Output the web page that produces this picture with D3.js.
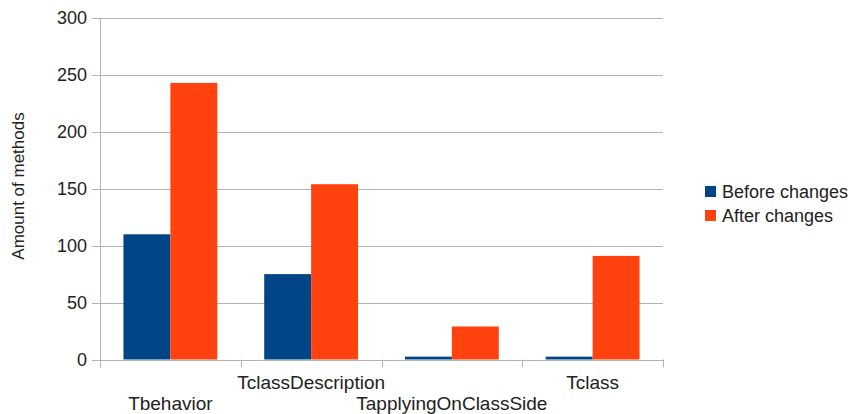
<!DOCTYPE html>
<html>
<head>
<meta charset="utf-8">
<script src="https://cdn.jsdelivr.net/npm/d3@7"></script>
<style>
  html, body { margin: 0; padding: 0; background: #fff; }
  svg { display: block; font-family: "Liberation Sans", Arial, sans-serif; }
</style>
</head>
<body>
<svg id="chart" width="856" height="414"></svg>
<script>
// Method counts per test class, before and after the changes
const categories = ["Tbehavior", "TclassDescription", "TapplyingOnClassSide", "Tclass"];
const seriesNames = ["Before changes", "After changes"];
const beforeValues = [110, 75, 2.5, 2.5];
const afterValues = [243, 154, 29, 91];
const yTicks = [0, 50, 100, 150, 200, 250, 300];
const colors = ["#004586", "#ff420e"];

const svg = d3.select("#chart");
const plot = { left: 100, right: 663, top: 18, bottom: 359.5 };

const x = d3.scaleBand().domain(categories).range([plot.left, plot.right]).paddingInner(0).paddingOuter(0);
const xInner = d3.scaleBand().domain(seriesNames).range([0, x.bandwidth()]).paddingInner(0).paddingOuter(0.5);
const y = d3.scaleLinear().domain([0, 300]).range([plot.bottom, plot.top]);

const rows = categories.map((c, i) => ({ cat: c, values: [beforeValues[i], afterValues[i]] }));

// Horizontal gridlines
svg.append("g")
  .selectAll("line")
  .data(yTicks)
  .join("line")
  .attr("x1", plot.left - 8)
  .attr("x2", plot.right)
  .attr("y1", d => Math.round(y(d)) + 0.5)
  .attr("y2", d => Math.round(y(d)) + 0.5)
  .attr("stroke", "#b3b3b3")
  .attr("stroke-width", 1);

// Y tick labels
svg.append("g")
  .selectAll("text")
  .data(yTicks)
  .join("text")
  .attr("x", 87)
  .attr("y", d => y(d))
  .attr("dy", "0.35em")
  .attr("text-anchor", "end")
  .attr("font-size", 18)
  .attr("fill", "#222")
  .text(d => d);

// Bars
const groups = svg.append("g")
  .selectAll("g")
  .data(rows)
  .join("g")
  .attr("transform", d => `translate(${x(d.cat)},0)`);

groups.selectAll("rect")
  .data(d => d.values.map((v, i) => ({ name: seriesNames[i], v, i })))
  .join("rect")
  .attr("x", d => xInner(d.name))
  .attr("width", xInner.bandwidth())
  .attr("y", d => y(d.v))
  .attr("height", d => y(0) - y(d.v))
  .attr("fill", d => colors[d.i]);

// Axis lines and category separators
const axisColor = "#b3b3b3";
svg.append("line")
  .attr("x1", plot.left + 0.5).attr("x2", plot.left + 0.5)
  .attr("y1", plot.top).attr("y2", plot.bottom + 8)
  .attr("stroke", axisColor);
svg.append("line")
  .attr("x1", plot.left).attr("x2", plot.right)
  .attr("y1", Math.round(plot.bottom) + 0.5).attr("y2", Math.round(plot.bottom) + 0.5)
  .attr("stroke", axisColor);

const boundaries = categories.map(c => x(c)).concat([plot.right]);
svg.append("g")
  .selectAll("line")
  .data(boundaries)
  .join("line")
  .attr("x1", d => Math.round(d) + 0.5)
  .attr("x2", d => Math.round(d) + 0.5)
  .attr("y1", plot.bottom)
  .attr("y2", plot.bottom + 8)
  .attr("stroke", axisColor);

// Category labels, staggered on two rows
svg.append("g")
  .selectAll("text")
  .data(categories)
  .join("text")
  .attr("x", d => x(d) + x.bandwidth() / 2)
  .attr("y", (d, i) => i % 2 === 0 ? 410 : 389)
  .attr("text-anchor", "middle")
  .attr("font-size", 19)
  .attr("fill", "#222")
  .text(d => d);

// Y axis title
svg.append("text")
  .attr("transform", "translate(24,186) rotate(-90)")
  .attr("text-anchor", "middle")
  .attr("font-size", 17)
  .attr("fill", "#222")
  .text("Amount of methods");

// Legend
const legend = svg.append("g")
  .selectAll("g")
  .data(seriesNames)
  .join("g")
  .attr("transform", (d, i) => `translate(705,${186 + i * 24})`);
legend.append("rect")
  .attr("width", 11).attr("height", 11)
  .attr("fill", (d, i) => colors[i]);
legend.append("text")
  .attr("x", 17)
  .attr("y", 5.5)
  .attr("dy", "0.35em")
  .attr("font-size", 18)
  .attr("fill", "#222")
  .text(d => d);
</script>
</body>
</html>
